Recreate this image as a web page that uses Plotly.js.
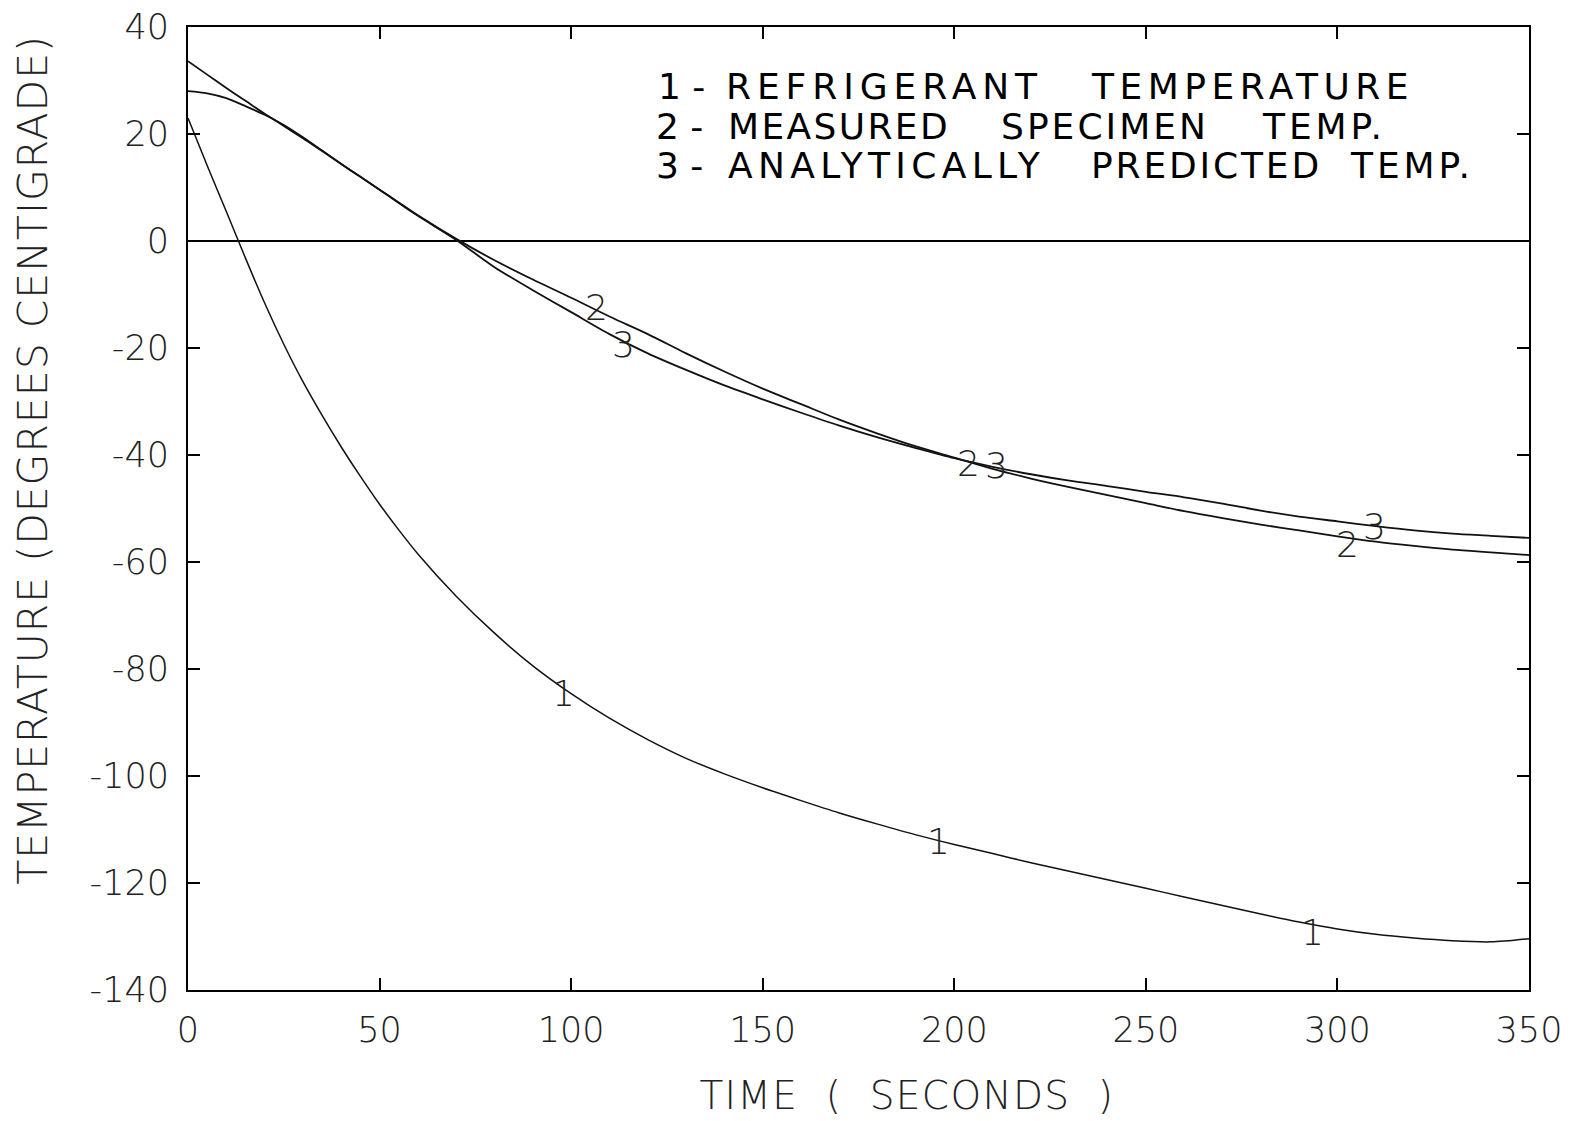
<!DOCTYPE html>
<html>
<head>
<meta charset="utf-8">
<script src="https://cdn.plot.ly/plotly-3.0.1.min.js"></script>
<style>html,body{margin:0;padding:0;background:#fff;}#chart{width:1577px;height:1121px;}</style>
</head>
<body>
<div id="chart"></div>
<script>
// ---- data ----
const timeS = [0,5,10,15,20,25,30,35,40,45,50,55,60,70,80,90,100,110,120,130,140,150,160,170,180,190,200,210,220,230,240,250,260,270,280,290,300,310,320,330,340,350];
const refrigerantTemp = [23,14.1,5.5,-3.2,-11.6,-19.3,-26.3,-32.6,-38.5,-44,-49.2,-54,-58.5,-66.4,-73.3,-79.4,-84.6,-89.2,-93.2,-96.7,-99.6,-102.2,-104.6,-106.9,-109,-111,-112.8,-114.5,-116.2,-117.8,-119.4,-121,-122.6,-124.2,-125.8,-127.3,-128.6,-129.6,-130.3,-130.8,-131,-130.4];
const measuredTemp = [28,27.6,26.7,25.2,23.6,21.7,19.4,16.9,14.4,12,9.6,7.2,4.8,0.4,-3.6,-7.2,-10.6,-14.1,-17.4,-21,-24.4,-27.6,-30.5,-33.4,-36,-38.4,-40.5,-42.6,-44.4,-46,-47.5,-49,-50.5,-51.8,-53,-54.1,-55.2,-56.2,-57,-57.7,-58.2,-58.7];
const predictedTemp = [33.6,31.1,28.6,26.2,23.8,21.5,19.2,16.8,14.4,12,9.6,7.1,4.7,0.2,-4.9,-9.2,-13.3,-17.4,-21,-24.1,-27,-29.6,-32.1,-34.5,-36.7,-38.7,-40.6,-42.2,-43.6,-44.8,-45.8,-46.9,-47.9,-49.1,-50.4,-51.5,-52.4,-53.3,-54.1,-54.7,-55.1,-55.5];

const xTickVals = [0,50,100,150,200,250,300,350];
const xTickText = ['0','50','100','150','200','250','300','350'];
const yTickVals = [40,20,0,-20,-40,-60,-80,-100,-120,-140];
const yTickText = ['40','20','0','-20','-40','-60','-80','-100','-120','-140'];

// curve number labels (plotter labels on the curves)
const curveLabelText = ['1','1','1','2','3','2','3','2','3'];
const curveLabelX = [97.9,195.8,293.4,106.6,113.7,203.7,211,302.6,309.7];
const curveLabelY = [-84.5,-112.3,-129.2,-12.4,-19.3,-41.5,-42,-56.7,-53.3];

const legendLines = [
  ['1 -', 'REFRIGERANT', 'TEMPERATURE'],
  ['2 -', 'MEASURED', 'SPECIMEN', 'TEMP.'],
  ['3 -', 'ANALYTICALLY', 'PREDICTED', 'TEMP.']
];

const xTitle = 'TIME\u00a0\u00a0(\u00a0\u00a0SECONDS\u00a0\u00a0)';
const yTitle = 'TEMPERATURE\u00a0(DEGREES\u00a0CENTIGRADE)';

// ---- layout geometry ----
const W = 1577, H = 1121;
const L = 188, R = 48, T = 27, B = 131;
const plotW = W - L - R, plotH = H - T - B;
const px2x = p => (p - L) / plotW;
const px2y = p => (H - B - p) / plotH;

const thinFont = 'DejaVu Sans, sans-serif';

const lineStyle = {color: '#111', width: 1.8, shape: 'spline', smoothing: 0.8};
const traces = [
  {x: timeS, y: refrigerantTemp, mode: 'lines', line: Object.assign({}, lineStyle, {width: 1.5}), name: 'Refrigerant'},
  {x: timeS, y: measuredTemp, mode: 'lines', line: lineStyle, name: 'Measured'},
  {x: timeS, y: predictedTemp, mode: 'lines', line: lineStyle, name: 'Predicted'}
];

const annotations = [];
const fitTargets = []; // [annotation index, target width px]
curveLabelText.forEach((t, i) => {
  annotations.push({x: curveLabelX[i], y: curveLabelY[i], xref: 'x', yref: 'y', text: t, showarrow: false,
    font: {family: thinFont, size: 36, color: '#222', weight: 200}, xanchor: 'center', yanchor: 'middle'});
});

// legend words: left pixel positions and widths per line
const legendWordPx = [
  [656, 724, 1089],
  [654, 726, 999, 1260],
  [654, 726, 1089, 1348]
];
const legendWordWidth = [
  [0, 317, 322],
  [0, 222, 208, 123],
  [0, 317, 231, 123]
];
const legendRowPy = [86, 126, 166];
legendLines.forEach((words, r) => {
  words.forEach((w, k) => {
    annotations.push({x: px2x(legendWordPx[r][k]), y: px2y(legendRowPy[r]), xref: 'paper', yref: 'paper',
      text: w, showarrow: false, xanchor: 'left', yanchor: 'middle', align: 'left',
      font: {family: 'DejaVu Sans, sans-serif', size: 36, color: '#000'}});
    if (legendWordWidth[r][k] > 0) fitTargets.push([annotations.length - 1, legendWordWidth[r][k]]);
  });
});

annotations.push({x: px2x(907), y: px2y(1095), xref: 'paper', yref: 'paper', text: xTitle, showarrow: false,
  xanchor: 'center', yanchor: 'middle', font: {family: thinFont, size: 39, color: '#222', weight: 200}});
fitTargets.push([annotations.length - 1, 415]);
annotations.push({x: px2x(33), y: px2y(460), xref: 'paper', yref: 'paper', text: yTitle, showarrow: false,
  textangle: -90, xanchor: 'center', yanchor: 'middle', font: {family: thinFont, size: 41, color: '#222', weight: 200}});
fitTargets.push([annotations.length - 1, 850]);

const axisCommon = {
  showline: true, linecolor: '#000', linewidth: 2, mirror: 'ticks',
  ticks: 'inside', ticklen: 12, tickwidth: 2, tickcolor: '#000',
  showgrid: false, tickmode: 'array',
  tickfont: {family: thinFont, size: 35, color: '#222', weight: 200}
};

const layout = {
  width: W, height: H,
  margin: {l: L, r: R, t: T, b: B, pad: 0},
  paper_bgcolor: '#fff', plot_bgcolor: '#fff',
  showlegend: false,
  xaxis: Object.assign({}, axisCommon, {range: [0, 350], tickvals: xTickVals, ticktext: xTickText, zeroline: false, ticklabelstandoff: 8}),
  yaxis: Object.assign({}, axisCommon, {range: [-140, 40], tickvals: yTickVals, ticktext: yTickText,
    zeroline: true, zerolinecolor: '#000', zerolinewidth: 2, ticklabelstandoff: 10}),
  annotations: annotations
};

Plotly.newPlot('chart', traces, layout, {staticPlot: true}).then(() => {
  // widen lettering to match the plotter's wide letter spacing
  fitTargets.forEach(([idx, target]) => {
    const el = document.querySelector('.annotation[data-index="' + idx + '"] text.annotation-text');
    if (!el) return;
    const n = el.textContent.length;
    const natural = el.getComputedTextLength();
    const ls = (target - natural) / n;
    if (isFinite(ls)) el.style.letterSpacing = ls.toFixed(2) + 'px';
  });
});
</script>
</body>
</html>
